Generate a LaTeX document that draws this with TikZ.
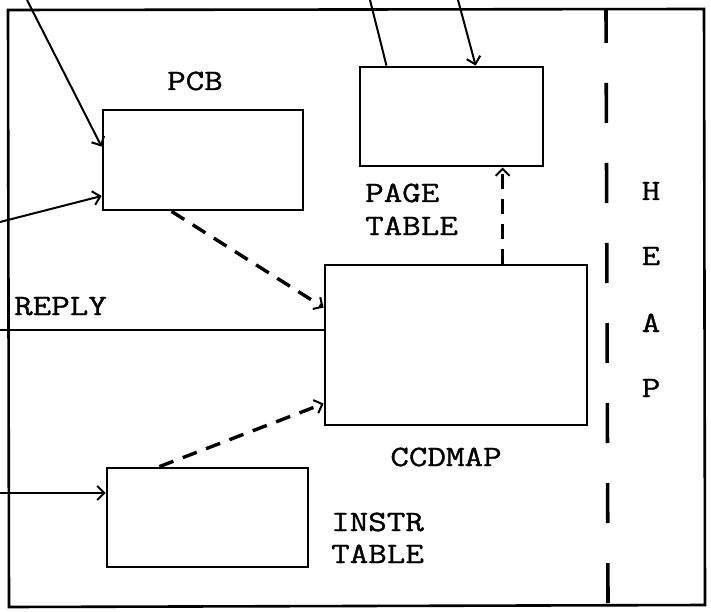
\documentclass[tikz,border=0pt]{standalone}
\usepackage{fontspec}
\newfontfamily\twfont[FakeStretch=1.22,FakeBold=1.2]{Latin Modern Mono}
\usetikzlibrary{arrows.meta,calc}
\begin{document}
\begin{tikzpicture}[x=1pt,y=-1pt,
  box/.style={draw,line width=2.8pt,rectangle,inner sep=0pt},
  lbl/.style={inner sep=0pt,font=\twfont\fontsize{29.5}{34}\selectfont},
  arr/.style={line width=2pt,-{Straight Barb[length=7pt,width=14pt,line width=2pt]}},
  plain/.style={line width=2pt},
  dsh/.style={line width=3.4pt,dash pattern=on 15pt off 10pt,-{Straight Barb[length=7pt,width=14pt,line width=2pt]}},
  frame/.style={line width=2.6pt}]
\useasboundingbox (0,0) rectangle (711,612);
% outer frame
\draw[frame] (8,10) -- (704,9) -- (705,605) -- (9,607) -- cycle;
% heap divider
\draw[line width=3.6pt,dash pattern=on 40pt off 40pt,dash phase=6pt] (606,9) -- (608,605);
% boxes
\node[box,minimum width=200pt,minimum height=100pt] (pcb) at (203,160) {};
\node[box,minimum width=183pt,minimum height=99pt] (pt) at (451.5,116.5) {};
\node[box,minimum width=262pt,minimum height=160pt] (ccd) at (456,345) {};
\node[box,minimum width=201pt,minimum height=99pt] (ins) at (207.5,517.5) {};
% labels
\node[lbl,anchor=base] (lpcb) at (195,90) {PCB};
\node[lbl,anchor=base west] (lpage) at (365,202) {PAGE};
\node[lbl,anchor=base west] (lpt) at (365,235) {TABLE};
\node[lbl,anchor=base] (lccd) at (446,466) {CCDMAP};
\node[lbl,anchor=base west] (linstr) at (331,531) {INSTR};
\node[lbl,anchor=base west] (litab) at (331,563) {TABLE};
\node[lbl,anchor=base west] (lreply) at (14,315) {REPLY};
\node[lbl,anchor=base] (lh) at (651,200) {H};
\node[lbl,anchor=base] (le) at (651,265) {E};
\node[lbl,anchor=base] (la) at (651,332) {A};
\node[lbl,anchor=base] (lp) at (651,397) {P};
% external end points
\coordinate (e1) at (27,0);
\coordinate (e2) at (0,222);
\coordinate (e3) at (370,0);
\coordinate (e4) at (458,0);
\coordinate (e5) at (0,493);
\coordinate (er) at (0,330);
% connection points
\coordinate (p1) at ($(pcb.north west)!0.37!(pcb.south west)$);
\coordinate (p2) at ($(pcb.north west)!0.85!(pcb.south west)$);
\coordinate (p3) at ($(pt.north west)!0.15!(pt.north east)$);
\coordinate (p4) at ($(pt.north west)!0.63!(pt.north east)$);
\coordinate (ct) at ($(ccd.north west)!0.676!(ccd.north east)$);
\coordinate (pb) at ($(pcb.south west)!0.345!(pcb.south east)$);
\coordinate (c1) at ($(ccd.north west)!0.27!(ccd.south west)$);
\coordinate (it) at ($(ins.north west)!0.264!(ins.north east)$);
\coordinate (c2) at ($(ccd.north west)!0.86!(ccd.south west)$);
% connectors
\draw[arr] (e1) -- (p1);
\draw[arr] (e2) -- (p2);
\draw[plain] (e3) -- (p3);
\draw[arr] (e4) -- (p4);
\draw[dsh] (ct) -- (ct |- pt.south);
\draw[dsh] (pb) -- (c1);
\draw[dsh] (it) -- (c2);
\draw[arr] (e5) -- (e5 -| ins.west);
\draw[plain] (er) -- (er -| ccd.west);
\end{tikzpicture}
\end{document}
